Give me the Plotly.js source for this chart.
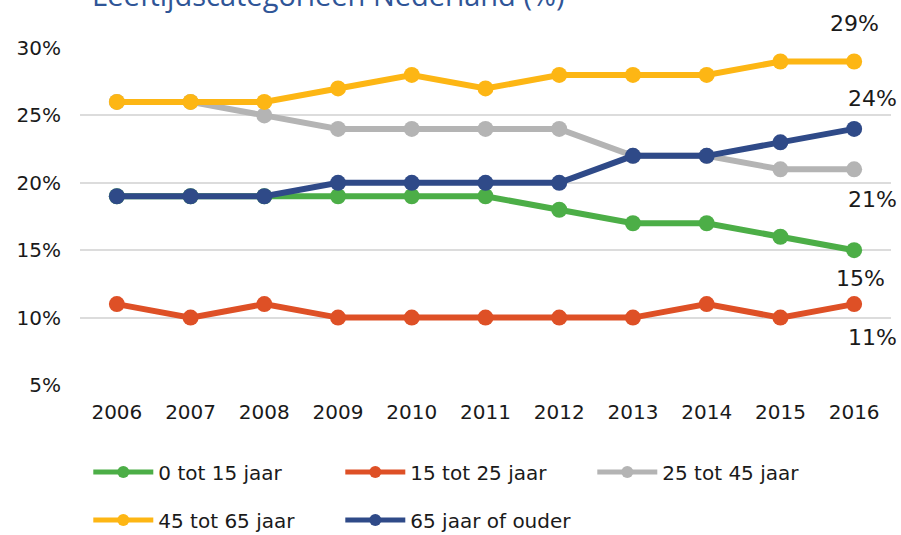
<!DOCTYPE html>
<html>
<head>
<meta charset="utf-8">
<script src="https://cdn.plot.ly/plotly-3.0.1.min.js"></script>
<style>
  html, body { margin: 0; padding: 0; background: #ffffff; }
  #chart { width: 901px; height: 535px; }
</style>
</head>
<body>
<div id="chart"></div>
<script>
// Leeftijdscategorieen Nederland, aandeel in %
const years = ['2006', '2007', '2008', '2009', '2010', '2011', '2012', '2013', '2014', '2015', '2016'];

const age0to15 = [19, 19, 19, 19, 19, 19, 18, 17, 17, 16, 15];
const age15to25 = [11, 10, 11, 10, 10, 10, 10, 10, 11, 10, 11];
const age25to45 = [26, 26, 25, 24, 24, 24, 24, 22, 22, 21, 21];
const age45to65 = [26, 26, 26, 27, 28, 27, 28, 28, 28, 29, 29];
const age65plus = [19, 19, 19, 20, 20, 20, 20, 22, 22, 23, 24];

const seriesNames = ['0 tot 15 jaar', '15 tot 25 jaar', '25 tot 45 jaar', '45 tot 65 jaar', '65 jaar of ouder'];
const seriesValues = [age0to15, age15to25, age25to45, age45to65, age65plus];
const colors = ['#4cae47', '#de5026', '#b4b4b4', '#fdb614', '#2f4a88'];
// which legend row each series goes in
const legendRow = ['legend', 'legend', 'legend', 'legend2', 'legend2'];
// pixel offsets of the end labels from the last point
const labelShift = [[6, -28], [18, -33], [18, -30], [0, 38], [18, 30]];

const tickVals = [5, 10, 15, 20, 25, 30];

const traces = seriesNames.map((name, i) => ({
  x: years,
  y: seriesValues[i],
  name: name,
  type: 'scatter',
  mode: 'lines+markers',
  line: { color: colors[i], width: 6 },
  marker: { color: colors[i], size: 16 },
  legend: legendRow[i],
  hoverinfo: 'skip'
}));

const last = years.length - 1;
const endLabels = seriesValues.map((vals, i) => ({
  x: last,
  y: vals[last],
  xref: 'x',
  yref: 'y',
  text: vals[last] + '%',
  showarrow: false,
  xanchor: 'center',
  yanchor: 'middle',
  xshift: labelShift[i][0],
  yshift: labelShift[i][1],
  font: { family: 'DejaVu Sans', size: 22, color: '#1a1a1a' }
}));

// the chart title sits mostly above the top edge, as in the original
const titleNote = {
  text: 'Leeftijdscategorieën Nederland (%)',
  xref: 'paper',
  yref: 'paper',
  x: 10 / 811,
  y: 1.16,
  xanchor: 'left',
  yanchor: 'middle',
  showarrow: false,
  font: { family: 'Open Sans', size: 29, color: '#2f5597' }
};

const legendStyle = {
  orientation: 'h',
  xref: 'container',
  yref: 'container',
  x: 0.098,
  xanchor: 'left',
  yanchor: 'middle',
  entrywidth: 177,
  itemwidth: 60,
  itemsizing: 'constant',
  font: { family: 'DejaVu Sans', size: 20, color: '#1a1a1a' },
  bgcolor: 'rgba(0,0,0,0)'
};

const layout = {
  width: 901,
  height: 535,
  paper_bgcolor: '#ffffff',
  plot_bgcolor: '#ffffff',
  margin: { l: 80, r: 10, t: 48, b: 150 },
  showlegend: true,
  legend: Object.assign({}, legendStyle, { y: 1 - 472 / 535 }),
  legend2: Object.assign({}, legendStyle, { y: 1 - 520 / 535 }),
  xaxis: {
    type: 'category',
    range: [-0.5, 10.5],
    showgrid: false,
    zeroline: false,
    showline: false,
    ticks: '',
    ticklabelstandoff: 13,
    tickfont: { family: 'DejaVu Sans', size: 20, color: '#1a1a1a' }
  },
  yaxis: {
    range: [5, 30],
    tickvals: tickVals,
    ticktext: tickVals.map(v => v + '%'),
    showgrid: true,
    gridcolor: '#dcdcdc',
    gridwidth: 2,
    zeroline: false,
    showline: false,
    ticks: '',
    ticklabelstandoff: 18,
    tickfont: { family: 'DejaVu Sans', size: 20, color: '#1a1a1a' }
  },
  annotations: [titleNote].concat(endLabels)
};

Plotly.newPlot('chart', traces, layout, { displayModeBar: false, staticPlot: true });
</script>
</body>
</html>
